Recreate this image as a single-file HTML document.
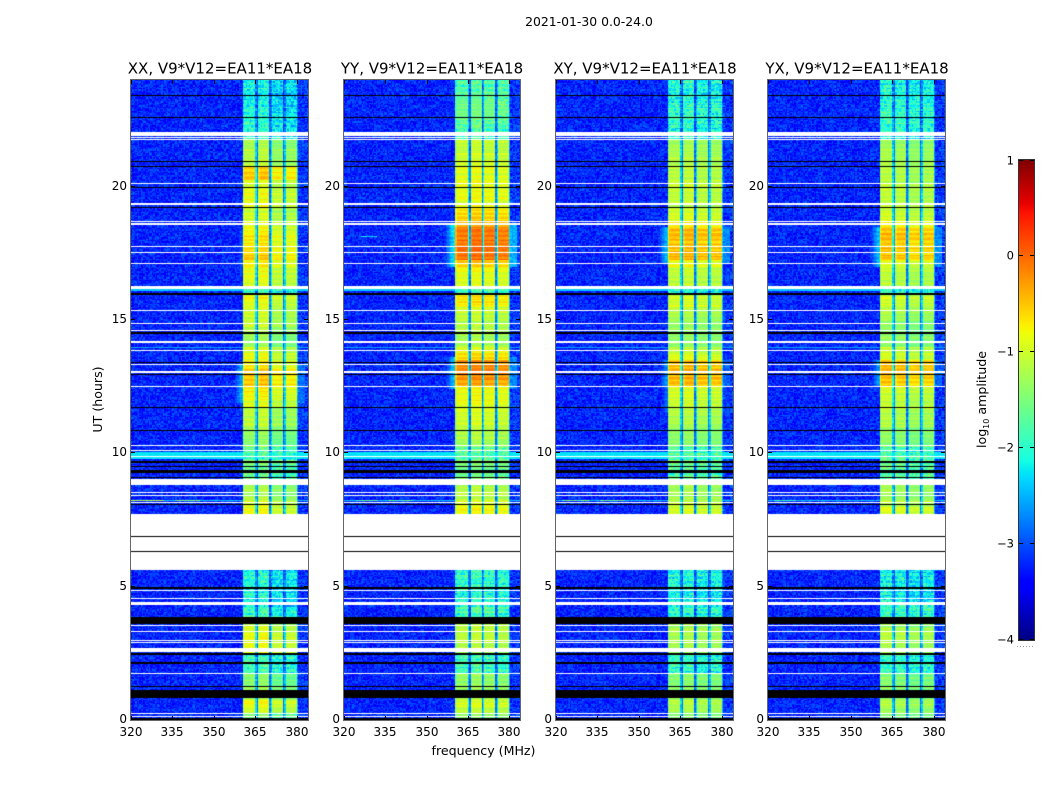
<!DOCTYPE html>
<html>
<head>
<meta charset="utf-8">
<title>2021-01-30 waterfall</title>
<style>
html,body{margin:0;padding:0;background:#fff;}
#figure{position:relative;width:1050px;height:800px;overflow:hidden;background:#fff;}
canvas{position:absolute;top:80px;height:640px;display:block;}
svg{position:absolute;left:0;top:0;}
text{font-family:"DejaVu Sans","Liberation Sans",sans-serif;fill:#000;}
</style>
</head>
<body>
<div id="figure">
  <canvas id="c0" width="177" height="640" style="left:131px;width:177px"></canvas>
  <canvas id="c1" width="176" height="640" style="left:344px;width:176px"></canvas>
  <canvas id="c2" width="177" height="640" style="left:556px;width:177px"></canvas>
  <canvas id="c3" width="177" height="640" style="left:768px;width:177px"></canvas>
  <svg id="overlay" width="1050" height="800" viewBox="0 0 1050 800">
    <text x="589" y="26" text-anchor="middle" font-size="12.4">2021-01-30 0.0-24.0</text>
    <text x="220" y="73.5" text-anchor="middle" font-size="15">XX, V9*V12=EA11*EA18</text>
    <text x="432" y="73.5" text-anchor="middle" font-size="15">YY, V9*V12=EA11*EA18</text>
    <text x="645" y="73.5" text-anchor="middle" font-size="15">XY, V9*V12=EA11*EA18</text>
    <text x="857" y="73.5" text-anchor="middle" font-size="15">YX, V9*V12=EA11*EA18</text>
    <text transform="translate(102,399.5) rotate(-90)" text-anchor="middle" font-size="12.6">UT (hours)</text>
    <text x="483.5" y="755" text-anchor="middle" font-size="12.6">frequency (MHz)</text>
    <text transform="translate(986,399.5) rotate(-90)" text-anchor="middle" font-size="12.6">log<tspan font-size="8" dy="3">10</tspan><tspan dy="-3"> amplitude</tspan></text>
    <g id="axes"></g>
    <g id="colorbar"></g>
  </svg>
</div>
<script>
/* ---------- chart data: axes ---------- */
const xTickValues = [320, 335, 350, 365, 380];
const yTickValues = [0, 5, 10, 15, 20];
const colorbarTickValues = [1, 0, -1, -2, -3, -4];

/* ---------- chart data: log10 amplitude of the band, one value per 0.25 h from UT 0 ---------- */
const bandXX = [
 -1.5,-1.0,-.8,-1.2,-1.3,-1.4,-1.4,-1.9,-1.9,-1.9,-.9,-.9,-.85,-.9,-1.1,-1.9,-1.9,-2.1,-2.1,-2.1,-2.1,-2.0,-2.2,-2.2,
 -2.2,-2.2,-2.2,-2.2,-2.2,-2.2,-.85,-.85,-.95,-1.2,-1.2,-1.3,-1.7,-1.7,-1.5,-1.8,-1.7,-1.4,-1.4,-1.3,-1.1,-1.1,-1.1,-.9,
 -.8,-.7,-.5,-.55,-.6,-.75,-.9,-1,-1.3,-1.3,-1.2,-1.1,-1,-1,-.9,-.85,-1.9,-.95,-.9,-.85,-.7,-.55,-.65,-.7,
 -.65,-.8,-.95,-1,-1.1,-.95,-.85,-.9,-.95,-.55,-.55,-1.1,-1.15,-1.2,-1.25,-2,-2,-2,-2.05,-2.1,-2.15,-2.15,-2.1,-2.1];
const bandYY = [
 -1.4,-1.1,-.95,-1.2,-1.3,-1.35,-1.35,-1.9,-1.9,-1.9,-1.2,-1.15,-1.1,-1.1,-1.2,-1.9,-1.7,-2,-2,-2,-2,-1.9,-2,-2,
 -2,-2,-2,-2,-2,-2,-.85,-.8,-.95,-1.15,-1.15,-1.25,-1.6,-1.6,-1.5,-1.7,-1.7,-1.3,-1.2,-1.2,-1,-1,-.95,-.85,
 -.85,-.8,-.35,-.25,-.2,-.25,-.65,-.9,-1.25,-1.25,-1.2,-1.15,-1.05,-1,-.75,-.65,-1.9,-.95,-.9,-.8,-.5,-.05,-.02,-.08,
 -.08,-.12,-.5,-.6,-.7,-.9,-.85,-.85,-.9,-.9,-.85,-1,-1.05,-1.1,-1.1,-1.9,-1.8,-1.7,-1.6,-1.55,-1.6,-1.65,-1.7,-1.8];
const bandXY = [
 -1.4,-1.15,-1.05,-1.2,-1.3,-1.35,-1.35,-1.9,-1.9,-1.9,-1.2,-1.15,-1.15,-1.15,-1.25,-1.9,-1.8,-2,-2.1,-2.1,-2,-1.95,-2.1,-2.1,
 -2.1,-2.1,-2.1,-2.1,-2.1,-2.1,-.95,-.9,-1,-1.15,-1.15,-1.25,-1.6,-1.6,-1.55,-1.7,-1.7,-1.35,-1.3,-1.3,-1.1,-1.1,-1,-.95,
 -.85,-.85,-.4,-.35,-.35,-.4,-.85,-1,-1.3,-1.3,-1.25,-1.2,-1.1,-1.05,-.9,-.9,-1.9,-1,-1,-.95,-.7,-.35,-.35,-.4,
 -.35,-.4,-.7,-.9,-.95,-1,-1,-1,-1,-1,-1,-1.1,-1.1,-1.15,-1.2,-2,-1.95,-1.9,-1.85,-1.85,-1.9,-1.95,-2,-2];
const bandYX = [
 -1.45,-1.2,-1.1,-1.25,-1.3,-1.4,-1.4,-1.9,-1.9,-1.95,-1.2,-1.15,-1.1,-1.15,-1.25,-1.9,-1.8,-2.05,-2.1,-2.1,-2.05,-2,-2.1,-2.1,
 -2.1,-2.1,-2.1,-2.1,-2.1,-2.1,-.95,-.85,-1,-1.2,-1.2,-1.3,-1.6,-1.6,-1.55,-1.75,-1.75,-1.35,-1.3,-1.3,-1.1,-1.1,-1.05,-1,
 -.95,-.9,-.5,-.4,-.4,-.45,-.9,-1,-1.3,-1.3,-1.3,-1.25,-1.15,-1.1,-.95,-.9,-1.9,-1.05,-1.05,-1,-.8,-.4,-.4,-.45,
 -.4,-.45,-.8,-.95,-1,-1.05,-1.05,-1.05,-1.05,-1.05,-1.05,-1.15,-1.15,-1.2,-1.25,-2,-1.9,-1.85,-1.85,-1.85,-1.9,-1.95,-2,-2.05];

/* offset of each of the four sub-bands, per correlation */
const subBandXX = [0.0, 0.05, -0.2, -0.2];
const subBandYY = [0.0, 0.05, 0.0, -0.05];
const subBandXY = [-0.1, -0.05, -0.15, -0.15];
const subBandYX = [-0.05, -0.1, -0.2, -0.15];
const subBandStartChannel = [81, 92, 102, 112];

/* response of channels 81..120 (0.5 MHz each): 1 = full band, low = sub-band gap */
const channelGain = [.9,1,1,1,1,1,1,1,1,.45,.2,.95,1,1,1,1,1,1,1,.2,.45,1,1,1,1,1,1,1,1,.2,.45,1,1,1,1,1,1,1,1,.3];

/* background level */
const backgroundLevel = -3.22;

/* band-edge leakage: [UT start, UT end, peak log10 amplitude] */
const flareXX = [[11.9, 13.3, -2.5], [17.0, 18.4, -2.9]];
const flareYY = [[12.4, 13.6, -2.4], [17.0, 18.6, -2.2]];
const flareXY = [[11.5, 12.5, -2.8], [12.5, 13.5, -2.6], [17.1, 18.5, -2.4]];
const flareYX = [[12.5, 13.5, -2.6], [17.0, 18.5, -2.4]];
/* fall-off of leakage over channels 70..80 */
const flareShoulder = [1.5, 1.3, 1.1, .95, .8, .65, .5, .35, .2, .1, 0];

/* rows at a uniform level across all channels: [UT start, UT end, level] */
const flatRows = [[16.09, 16.18, -2.4], [13.94, 14.0, -2.6], [9.92, 10.05, -2.25], [9.79, 9.86, -2.25], [8.2, 8.25, -2.4]];
/* narrow-band interference: [panel, MHz start, MHz end, UT start, UT end, level] */
const interference = [
 [0, 320, 332, 8.2, 8.25, -1.2], [0, 336, 345, 8.2, 8.25, -1.4], [0, 320, 335, 19.3, 19.35, -1.6],
 [1, 324, 332, 8.2, 8.25, -1.7], [1, 336, 345, 8.2, 8.25, -1.8], [1, 326, 332, 18.1, 18.15, -2.2],
 [2, 322, 332, 8.2, 8.25, -1.6], [2, 336, 345, 8.2, 8.25, -1.7],
 [3, 322, 330, 8.2, 8.25, -1.9]];

/* flagged time ranges in UT hours: [start, end] */
const whiteFlags = [[21.9,22.05],[21.83,21.86],[21.75,21.79],[20.10,20.14],[19.33,19.39],[18.68,18.71],[18.58,18.62],
 [17.74,17.78],[17.51,17.55],[17.10,17.14],[16.18,16.28],[15.34,15.38],[14.85,14.89],[14.59,14.63],[14.14,14.21],
 [13.84,13.88],[13.31,13.35],[13.03,13.09],[12.49,12.54],[10.28,10.31],[10.09,10.13],[9.86,9.90],[8.81,9.04],
 [8.51,8.55],[8.40,8.44],[8.14,8.18],[5.63,7.73],[4.84,4.88],[4.52,4.58],[4.31,4.43],[3.53,3.56],[3.30,3.34],
 [2.96,3.0],[2.89,2.93],[2.55,2.70],[1.73,1.76],[0.23,0.26],[0.11,0.15]];
const blackFlags = [[23.40,23.44],[22.58,22.61],[20.93,20.96],[20.72,20.79],[19.95,19.99],[19.20,19.24],[15.94,16.01],
 [14.49,14.55],[13.39,13.43],[12.94,12.98],[11.70,11.74],[10.82,10.88],[9.64,9.71],[9.47,9.54],[9.28,9.36],[9.08,9.13],
 [8.06,8.10],[6.86,6.90],[6.30,6.34],[4.93,4.99],[3.60,3.86],[2.44,2.53],[2.10,2.19],[1.24,1.28],[0.83,1.13],[0,0.08]];

/* hand-written speckle texture (unit amplitude), the picture's pixel noise cannot be read value by value */
const speckle = [.3,-.7,.9,-.2,.5,-.9,.1,.7,-.4,-.1,.8,-.6,.2,-.8,.6,.4,-.3,1,-.5,0,.7,-.9,.3,-.2,.9,-.6,.1,.5,-.8,.4,
 -.1,.6,-1,.2,.8,-.4,-.7,.5,.1,-.3,.9,-.5,.3,-.8,.7,0,-.6,.4,.2,-.9,.6,-.2,.8,-.5,.1,-.7,1,.3,-.4,.5,-.1,-.8,.7,.2,-.6,
 .9,-.3,.4,-.9,.1,.6,-.5,.8,-.2,.3,-.7,.5,0,-.4,.9,-.8,.2,.6,-.1,-.6,.7,.4,-1,.3,.8,-.3,.1,-.5,.6,-.7,.2,.9,-.4,.5,-.2,-.9];
const rowTexture = [.4,-.6,.1,.9,-.3,-.8,.5,.2,-.5,.7,-.1,-.9,.6,.3,-.4,.8,-.7,0,.5,-.2,1,-.6,.2,-.3,.7,-.8,.4,.1,-.5,.9,-.2,-.7,.3,.6,-.4,-.1,.8];

/* ---------- panels ---------- */
const panels = [
 {key:'xx', left:131, width:177, band:bandXX, sub:subBandXX, flare:flareXX},
 {key:'yy', left:344, width:176, band:bandYY, sub:subBandYY, flare:flareYY},
 {key:'xy', left:556, width:177, band:bandXY, sub:subBandXY, flare:flareXY},
 {key:'yx', left:768, width:177, band:bandYX, sub:subBandYX, flare:flareYX}
];

/* ---------- scales ---------- */
const PLOT_TOP = 80, PLOT_BOTTOM = 720, UT_MAX = 24, F_MIN = 320, F_MAX = 384;
function yScale(ut){ return PLOT_BOTTOM - (ut / UT_MAX) * (PLOT_BOTTOM - PLOT_TOP); }
function xScale(p, mhz){ return p.left + (mhz - F_MIN) / (F_MAX - F_MIN) * p.width; }
function ramp(t, pts){
  for (let i = 1; i < pts.length; i++) {
    if (t <= pts[i][0]) {
      const a = pts[i-1], b = pts[i];
      return a[1] + (b[1] - a[1]) * (t - a[0]) / (b[0] - a[0]);
    }
  }
  return pts[pts.length-1][1];
}
function jet(v){
  const t = Math.max(0, Math.min(1, (v + 4) / 5));
  const r = ramp(t, [[0,0],[.35,0],[.66,1],[.89,1],[1,.5]]);
  const g = ramp(t, [[0,0],[.125,0],[.375,1],[.64,1],[.91,0],[1,0]]);
  const b = ramp(t, [[0,.5],[.11,1],[.34,1],[.65,0],[1,0]]);
  return 'rgb(' + Math.round(r*255) + ',' + Math.round(g*255) + ',' + Math.round(b*255) + ')';
}

/* ---------- heatmap cells ---------- */
const ROW_H = 0.05, CH_W = 0.5, N_ROWS = 480, N_CH = 128;
function cellValue(p, pi, r, c){
  const ut = (r + 0.5) * ROW_H;
  const mhz = F_MIN + (c + 0.5) * CH_W;
  const s = speckle[(c*c*3 + r*r*5 + c*r + pi*17) % speckle.length];
  const rowT = rowTexture[(r + pi*3) % rowTexture.length];
  let bg = backgroundLevel + (c >= 120 ? 0.1 : 0);
  let v = bg + s * 0.33;
  for (let i = 0; i < p.flare.length; i++) {
    const f = p.flare[i];
    if (ut >= f[0] && ut <= f[1]) {
      if (c >= 70 && c <= 80) v = Math.max(v, f[2] - flareShoulder[c-70] + s * 0.15 + rowT * 0.1);
      if (c > 120 && c <= 125) v = Math.max(v, f[2] - 0.3 + s * 0.2);
    }
  }
  if (c >= 81 && c <= 120) {
    let level = p.band[Math.min(p.band.length - 1, Math.floor(ut / 0.25))];
    let sb = 0;
    for (let i = 0; i < subBandStartChannel.length; i++) if (c >= subBandStartChannel[i]) sb = i;
    level += p.sub[sb];
    const dim = level < -1.6;
    level += s * (dim ? 0.38 : 0.07) + rowT * (dim ? 0.2 : 0.17);
    v = bg + (level - bg) * channelGain[c-81] + (channelGain[c-81] < 0.7 ? s * 0.2 : 0);
  }
  for (let i = 0; i < flatRows.length; i++) {
    const f = flatRows[i];
    if (ut >= f[0] && ut <= f[1]) v = Math.max(v, f[2] + s * 0.05);
  }
  for (let i = 0; i < interference.length; i++) {
    const f = interference[i];
    if (f[0] === pi && mhz >= f[1] && mhz <= f[2] && ut >= f[3] && ut <= f[4]) v = Math.max(v, f[5] + s * 0.3);
  }
  return v;
}
function drawFlags(ctx, list, colour, w){
  ctx.fillStyle = colour;
  list.forEach(function(f){
    const y0 = Math.round(yScale(f[1]) - PLOT_TOP);
    const y1 = Math.round(yScale(f[0]) - PLOT_TOP);
    ctx.fillRect(0, y0, w, Math.max(1, y1 - y0));
  });
}
panels.forEach(function(p, pi){
  const ctx = document.getElementById('c' + pi).getContext('2d');
  for (let r = 0; r < N_ROWS; r++) {
    const y0 = Math.round(yScale((r + 1) * ROW_H) - PLOT_TOP);
    const y1 = Math.round(yScale(r * ROW_H) - PLOT_TOP);
    for (let c = 0; c < N_CH; c++) {
      const x0 = Math.round(xScale(p, F_MIN + c * CH_W) - p.left);
      const x1 = Math.round(xScale(p, F_MIN + (c + 1) * CH_W) - p.left);
      ctx.fillStyle = jet(cellValue(p, pi, r, c));
      ctx.fillRect(x0, y0, x1 - x0, y1 - y0);
    }
  }
  drawFlags(ctx, whiteFlags, '#fff', p.width);
  drawFlags(ctx, blackFlags, '#000', p.width);
});

/* ---------- axes ---------- */
const NS = 'http://www.w3.org/2000/svg';
function svgEl(tag, attrs, parent){
  const el = document.createElementNS(NS, tag);
  Object.keys(attrs).forEach(function(k){ el.setAttribute(k, attrs[k]); });
  parent.appendChild(el);
  return el;
}
function tickLine(parent, x1, y1, x2, y2, name){
  const el = svgEl('line', {x1:x1, y1:y1, x2:x2, y2:y2, stroke:'#000', 'stroke-width':1, 'shape-rendering':'crispEdges'}, parent);
  
  
  return el;
}
function label(parent, x, y, str, anchor, size, name){
  const el = svgEl('text', {x:x, y:y, 'text-anchor':anchor, 'font-size':size}, parent);
  el.textContent = str;
  
  
  return el;
}
const axes = document.getElementById('axes');
panels.forEach(function(p){
  const right = p.left + p.width;
  xTickValues.forEach(function(v){
    const x = Math.round(xScale(p, v)) + 0.5;
    tickLine(axes, x, PLOT_BOTTOM, x, PLOT_BOTTOM - 4, p.key + '-x-tick-bottom');
    tickLine(axes, x, PLOT_TOP, x, PLOT_TOP + 4, p.key + '-x-tick-top');
    label(axes, x - 0.5, 736, String(v), 'middle', 12, p.key + '-x-tick-label');
  });
  yTickValues.forEach(function(v){
    const y = Math.round(yScale(v)) - 0.5;
    tickLine(axes, p.left, y, p.left + 4, y, p.key + '-y-tick-left');
    tickLine(axes, right, y, right - 4, y, p.key + '-y-tick-right');
    label(axes, p.left - 4, y + 3.5, String(v), 'end', 12, p.key + '-y-tick-label');
  });
  const frame = svgEl('rect', {x:p.left - 0.5, y:PLOT_TOP - 0.5, width:p.width + 1, height:PLOT_BOTTOM - PLOT_TOP + 1, fill:'none', stroke:'#666', 'stroke-width':1, 'shape-rendering':'crispEdges'}, axes);
  
  
});

/* ---------- colourbar ---------- */
const CB_TOP = 160, CB_BOTTOM = 640, CB_LEFT = 1019, CB_RIGHT = 1034, CB_MIN = -4, CB_MAX = 1;
function cbScale(v){ return CB_BOTTOM - (v - CB_MIN) / (CB_MAX - CB_MIN) * (CB_BOTTOM - CB_TOP); }
const cb = document.getElementById('colorbar');
for (let i = 0; i < 240; i++) {
  const lo = CB_MIN + i * (CB_MAX - CB_MIN) / 240;
  const hi = CB_MIN + (i + 1) * (CB_MAX - CB_MIN) / 240;
  const seg = svgEl('rect', {x:CB_LEFT, y:cbScale(hi), width:CB_RIGHT - CB_LEFT, height:cbScale(lo) - cbScale(hi) + 0.5, fill:jet((lo + hi) / 2), 'shape-rendering':'crispEdges'}, cb);
  
  
}
const cbFrame = svgEl('rect', {x:CB_LEFT - 0.5, y:CB_TOP - 0.5, width:CB_RIGHT - CB_LEFT + 1, height:CB_BOTTOM - CB_TOP + 1, fill:'none', stroke:'#333', 'stroke-width':1, 'shape-rendering':'crispEdges'}, cb);


colorbarTickValues.forEach(function(v){
  const y = Math.round(cbScale(v)) - (v === CB_MAX ? -0.5 : 0.5);
  tickLine(cb, CB_LEFT, y, CB_LEFT + 4, y, 'colorbar-tick-left');
  tickLine(cb, CB_RIGHT, y, CB_RIGHT - 4, y, 'colorbar-tick-right');
  label(cb, CB_LEFT - 5, y + 4, String(v).replace('-', '\u2212'), 'end', 11.5, 'colorbar-tick-label');
});
const dots = svgEl('line', {x1:1017, y1:646.5, x2:1035, y2:646.5, stroke:'#999', 'stroke-width':1, 'stroke-dasharray':'1 2', 'shape-rendering':'crispEdges'}, cb);


</script>
</body>
</html>
